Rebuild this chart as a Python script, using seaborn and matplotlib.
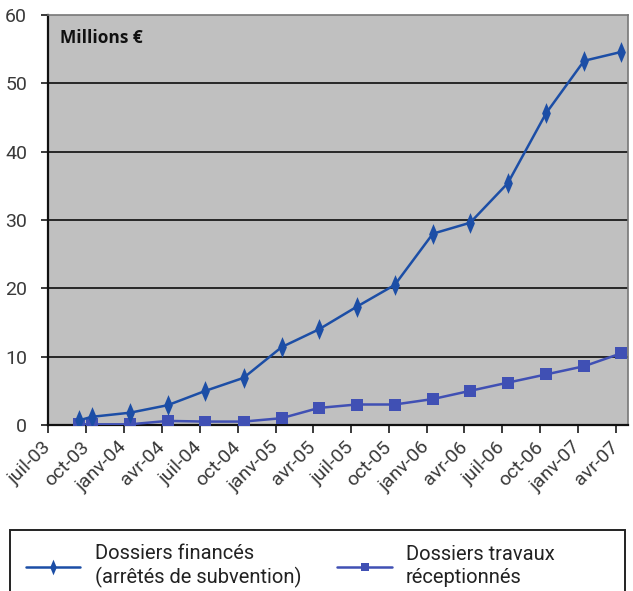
import matplotlib
matplotlib.use("Agg")
import matplotlib.pyplot as plt
import matplotlib.patches as mpatches
from matplotlib.path import Path
import pandas as pd
import seaborn as sns

sns.set_style("white")
plt.rcParams['font.family'] = ['Roboto', 'DejaVu Sans']

# dates des points (trimestriels)
dates = pd.to_datetime([
    "2003-09-15", "2003-10-15", "2004-01-15", "2004-04-15", "2004-07-15",
    "2004-10-15", "2005-01-15", "2005-04-15", "2005-07-15", "2005-10-15",
    "2006-01-15", "2006-04-15", "2006-07-15", "2006-10-15", "2007-01-15",
    "2007-04-15",
])
finances = [0.7, 1.2, 1.8, 2.9, 5.0, 6.9, 11.4, 14.0, 17.3, 20.5,
            28.0, 29.6, 35.4, 45.6, 53.3, 54.6]
receptionnes = [0.1, 0.1, 0.1, 0.6, 0.5, 0.5, 1.0, 2.5, 3.0, 3.0,
                3.8, 5.0, 6.2, 7.4, 8.6, 10.5]

tick_dates = pd.date_range("2003-07-01", "2007-04-01", freq="QS")
tick_labels = ["juil-03", "oct-03", "janv-04", "avr-04", "juil-04", "oct-04",
               "janv-05", "avr-05", "juil-05", "oct-05", "janv-06", "avr-06",
               "juil-06", "oct-06", "janv-07", "avr-07"]

df = pd.DataFrame({"date": dates, "fin": finances, "rec": receptionnes})

# losange étroit
losange = Path([(0, 1), (0.42, 0), (0, -1), (-0.42, 0), (0, 1)],
               [Path.MOVETO, Path.LINETO, Path.LINETO, Path.LINETO, Path.CLOSEPOLY])

fig = plt.figure(figsize=(6.33, 5.91), dpi=100)
ax = fig.add_axes([48 / 633, 1 - 425 / 591, 580 / 633, 410 / 591])
ax.set_facecolor("#c0c0c0")

# grille horizontale noire
for yv in range(10, 60, 10):
    ax.axhline(yv, color="#1a1a1a", lw=1.3, zorder=1)

sns.lineplot(data=df, x="date", y="rec", ax=ax, color="#4050b4", lw=1.8,
             marker="s", markersize=8, markeredgewidth=0,
             label="Dossiers travaux\nréceptionnés", zorder=3)
sns.lineplot(data=df, x="date", y="fin", ax=ax, color="#1c4ea6", lw=1.8,
             marker=losange, markersize=15, markeredgewidth=0,
             label="Dossiers financés\n(arrêtés de subvention)", zorder=4)

ax.set_xlim(pd.Timestamp("2003-07-01"), pd.Timestamp("2007-05-01"))
ax.set_ylim(0, 60)
ax.set_yticks(range(0, 61, 10))
ax.set_xticks(tick_dates)
ax.set_xticklabels(tick_labels, rotation=45, ha="right", va="center",
                   rotation_mode="anchor", fontsize=14, color="#3a3a3a")
ax.tick_params(axis="y", labelsize=14, labelcolor="#3a3a3a", length=5,
               width=1.2, color="#1a1a1a", left=True, pad=10)
ax.tick_params(axis="x", length=6, width=1.2, color="#1a1a1a", bottom=True,
               pad=8)
ax.set_xlabel("")
ax.set_ylabel("")

for s in ["left", "bottom"]:
    ax.spines[s].set_color("#111111")
    ax.spines[s].set_linewidth(1.6)
for s in ["top", "right"]:
    ax.spines[s].set_color("#777777")
    ax.spines[s].set_linewidth(1.2)

ax.text(0.02, 0.965, "Millions €", transform=ax.transAxes, fontsize=12.5,
        fontweight="bold", color="#111111", va="top", ha="left",
        family=["Open Sans", "DejaVu Sans"])

# légende en bas, cadre dessiné à part
h, l = ax.get_legend_handles_labels()
ax.get_legend().remove()
cadre = mpatches.Rectangle((10 / 633, -0.05), 615 / 633, 1 - 530 / 591 + 0.05,
                           transform=fig.transFigure, fill=False,
                           edgecolor="#222222", lw=1.4)
fig.patches.append(cadre)
leg = fig.legend(h[::-1], l[::-1], ncol=2, loc="upper left",
                 bbox_to_anchor=(12 / 633, 1 - 530 / 591),
                 frameon=False, fontsize=14.5, handlelength=2.7,
                 handletextpad=0.7, columnspacing=1.8, markerscale=0.75,
                 borderpad=0.2, labelspacing=0.2)
for t in leg.get_texts():
    t.set_color("#222222")
    t.set_linespacing(1.25)

fig.savefig("out.png", dpi=100)
